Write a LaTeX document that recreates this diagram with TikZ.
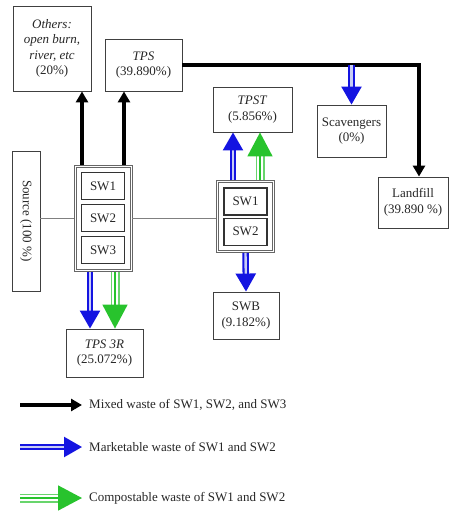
\documentclass[tikz,border=0pt]{standalone}
\usepackage{fontspec}
\setmainfont{Liberation Serif}
\usepackage{tikz}
\usetikzlibrary{matrix,arrows.meta}

\definecolor{mktblue}{RGB}{20,20,225}
\definecolor{mktlight}{RGB}{200,205,245}
\definecolor{compgreen}{RGB}{40,195,45}

\tikzset{
  box/.style={draw=black!75, line width=0.9pt, align=center, inner sep=1pt},
  swbox/.style={draw=black!80, line width=1.1pt, minimum width=43pt, minimum height=27pt, inner sep=0pt},
  grp/.style={matrix of nodes, draw=black!60, line width=0.7pt, inner sep=7pt, nodes={swbox}},
  grpline/.style={draw=black!60, line width=0.7pt},
  link/.style={draw=black!50, line width=0.7pt},
  mixed/.style={draw=black, line width=3.5pt, -{Triangle[length=11pt,width=12pt]}},
  market/.style={draw=mktlight, line width=2.4pt,
    preaction={draw=mktblue, line width=6.5pt, -, shorten >=10pt},
    -{Triangle[length=18pt,width=20pt,color=mktblue]}},
  compost/.style={draw=compgreen, line width=1.6pt,
    preaction={draw=compgreen!70, line width=9pt, -, shorten >=12pt},
    preaction={draw=white, line width=5.4pt, -, shorten >=12pt},
    -{Triangle[length=24pt,width=25pt]}},
  legtext/.style={anchor=west, inner sep=0pt, inner xsep=7pt}
}

\begin{document}
\begin{tikzpicture}[x=1pt, y=-1pt, font=\fontsize{13}{15.5}\selectfont, text=black!85]
\useasboundingbox (0,0) rectangle (450,511);

% where the waste ends up
\node[box, minimum width=78pt, minimum height=85pt] (others) at (52,48.5)
  {\textit{Others:}\\\textit{open burn,}\\\textit{river, etc}\\(20\%)};
\node[box, minimum width=77pt, minimum height=52pt] (tps) at (143.5,65) {\textit{TPS}\\(39.890\%)};
\node[box, minimum width=79pt, minimum height=45pt] (tpst) at (252.5,109.5) {\textit{TPST}\\(5.856\%)};
\node[box, minimum width=69pt, minimum height=52pt] (scav) at (351.5,131) {Scavengers\\(0\%)};
\node[box, minimum width=70pt, minimum height=51pt] (landfill) at (413,202.5) {Landfill\\(39.890 \%)};
\node[box, minimum width=66pt, minimum height=47pt] (swb) at (246,315.5) {SWB\\(9.182\%)};
\node[box, minimum width=77pt, minimum height=48pt] (tps3r) at (104.5,353) {\textit{TPS 3R}\\(25.072\%)};
\node[box, rotate=-90, minimum width=140pt, minimum height=28pt] (src) at (26,221) {Source (100 \%)};

% sorting groups
\matrix (grpA) [grp, row sep=4pt] at (103,218) {SW1\\SW2\\SW3\\};
\matrix (grpB) [grp, row sep=2pt] at (245.5,216.5) {SW1\\SW2\\};
\draw[grpline] ([xshift=2.5pt,yshift=-2.5pt]grpA.north west) rectangle ([xshift=-2.5pt,yshift=2.5pt]grpA.south east);
\draw[grpline] ([xshift=2.5pt,yshift=-2.5pt]grpB.north west) rectangle ([xshift=-2.5pt,yshift=2.5pt]grpB.south east);

\draw[link] (grpA.west -| src.north) -- (grpA.west);
\draw[link] (grpA.east) -- (grpA.east -| grpB.west);

% flows
\draw[mixed] ([xshift=-21pt]grpA.north) -- ([xshift=-21pt]grpA.north |- others.south);
\draw[mixed] ([xshift=21pt]grpA.north) -- ([xshift=21pt]grpA.north |- tps.south);
\draw[mixed] (tps.east) -| ([xshift=6pt]landfill.north);
\draw[market] (scav.north |- tps.east) -- (scav.north);

\draw[market] ([xshift=-12.5pt]grpB.north) -- ([xshift=-12.5pt]grpB.north |- tpst.south);
\draw[compost] ([xshift=14.5pt]grpB.north) -- ([xshift=14.5pt]grpB.north |- tpst.south);
\draw[market] (grpB.south) -- (swb.north);

\draw[market] ([xshift=-13pt]grpA.south) -- ([xshift=-13pt]grpA.south |- tps3r.north);
\draw[compost] ([xshift=12pt]grpA.south) -- ([xshift=12pt]grpA.south |- tps3r.north);

% legend
\coordinate (lgmix) at (20,405);
\node[legtext] (lgmixtext) at (82,405) {Mixed waste of SW1, SW2, and SW3};
\draw[mixed] (lgmix) -- (lgmixtext);
\coordinate (lgmkt) at (20,447);
\node[legtext] (lgmkttext) at (82,447) {Marketable waste of SW1 and SW2};
\draw[market] (lgmkt) -- (lgmkttext);
\coordinate (lgcomp) at (20,498);
\node[legtext] (lgcomptext) at (82,498) {Compostable waste of SW1 and SW2};
\draw[compost] (lgcomp) -- (lgcomptext);
\end{tikzpicture}
\end{document}
